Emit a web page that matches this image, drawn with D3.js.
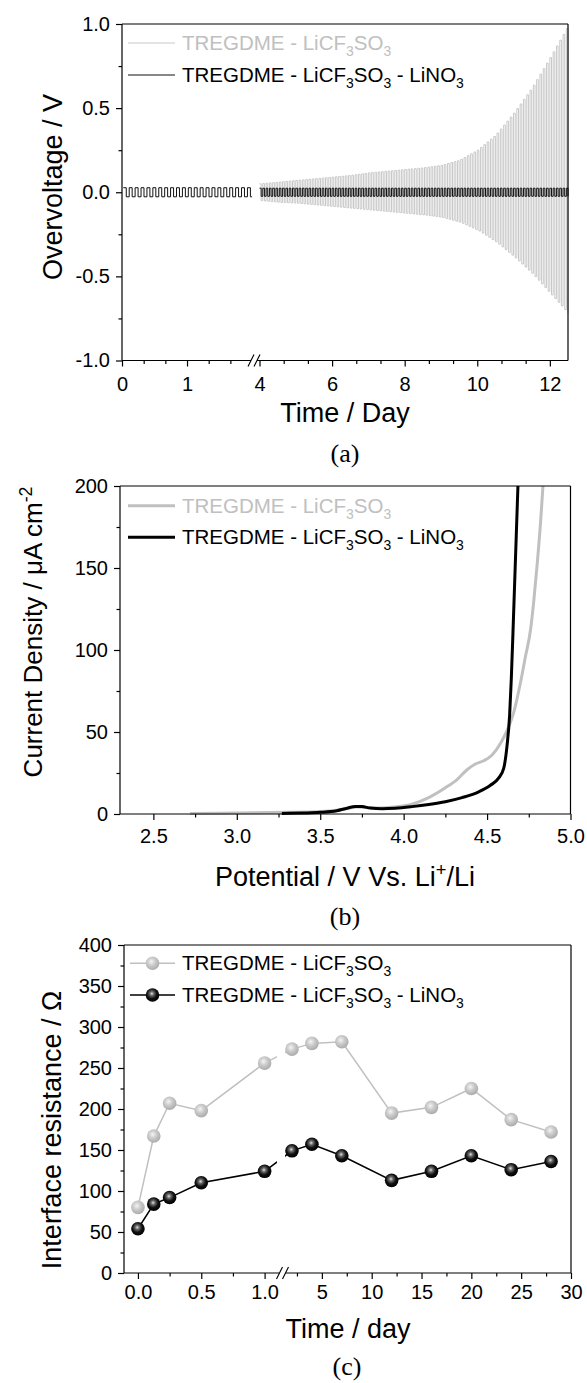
<!DOCTYPE html>
<html>
<head>
<meta charset="utf-8">
<script src="https://cdn.jsdelivr.net/npm/d3@7"></script>
<style>
  body { margin: 0; background: #fff; }
  svg { display: block; font-family: Arial, "Liberation Sans", sans-serif; }
</style>
</head>
<body>
<div class="main"></div>
<script>
// ---- data (a) : overvoltage cycling, envelope ----
const cyclesPerDay = 11;
const blackWindowsA = [[0.02, 2.0], [4.0, 12.5]];   // days with cycling shown
const blackAmpA = [0.027, 0.024];                     // +/- amplitude per window (V)
const envDays  = [4.0, 4.5, 5.0, 5.5, 6.0, 6.5, 7.0, 7.5, 8.0, 8.5, 9.0, 9.5, 10.0, 10.5, 11.0, 11.5, 12.0, 12.5];
const grayUp   = [0.05, 0.06, 0.07, 0.08, 0.09, 0.10, 0.115, 0.125, 0.135, 0.145, 0.16, 0.19, 0.25, 0.34, 0.47, 0.62, 0.80, 0.99];
const grayDown = [-0.05, -0.06, -0.065, -0.075, -0.085, -0.095, -0.105, -0.115, -0.125, -0.135, -0.15, -0.18, -0.23, -0.30, -0.39, -0.49, -0.61, -0.73];
const aTicksY = [-1, -0.5, 0, 0.5, 1];
const aTicksX1 = [0, 1];
const aTicksX2 = [4, 6, 8, 10, 12];

// ---- data (b) : linear sweep voltammetry ----
const lsvGrayV = [2.72, 2.9, 3.1, 3.3, 3.5, 3.6, 3.67, 3.72, 3.77, 3.84, 3.95, 4.05, 4.15, 4.25, 4.32, 4.38, 4.43, 4.48, 4.53, 4.58, 4.62, 4.66, 4.70, 4.73, 4.76, 4.78, 4.80, 4.82, 4.835];
const lsvGrayI = [0.3, 0.5, 0.8, 1.0, 1.5, 2.3, 3.5, 4.3, 4.0, 3.6, 4.3, 6, 10, 16, 21, 27, 30.5, 32.5, 36, 43, 51, 62, 80, 96, 112, 130, 152, 177, 200];
const lsvBlackV = [3.27, 3.4, 3.5, 3.6, 3.66, 3.71, 3.75, 3.8, 3.87, 3.95, 4.05, 4.15, 4.25, 4.35, 4.45, 4.52, 4.57, 4.6, 4.62, 4.635, 4.645, 4.655, 4.665, 4.675, 4.685];
const lsvBlackI = [0.3, 0.6, 1.0, 2.0, 3.5, 4.6, 4.5, 3.6, 3.2, 3.5, 4.5, 5.8, 7.5, 10, 13.5, 17.5, 22, 28, 42, 60, 82, 110, 140, 170, 200];
const bTicksX = [2.5, 3.0, 3.5, 4.0, 4.5, 5.0];
const bTicksY = [0, 50, 100, 150, 200];

// ---- data (c) : interface resistance ----
const resDays  = [0, 0.125, 0.25, 0.5, 1, 2, 4, 7, 12, 16, 20, 24, 28];
const resGray  = [80, 167, 207, 198, 256, 273, 280, 282, 195, 202, 225, 187, 172];
const resBlack = [54, 84, 92, 110, 124, 149, 157, 143, 113, 124, 143, 126, 136];
const cTicksY = [0, 50, 100, 150, 200, 250, 300, 350, 400];
const cTicksX1 = [0, 0.5, 1.0];
const cTicksX2 = [5, 10, 15, 20, 25, 30];

const GRAY = "#c8c8c8";
const FONT = 'Arial, "Liberation Sans", sans-serif';
const SERIF = '"Liberation Serif", "Times New Roman", serif';
const LEG = 20.5;

const svg = d3.select('.main').append('svg')
  .attr('width', 587).attr('height', 1383);
svg.append('rect').attr('width', 587).attr('height', 1383).attr('fill', '#fff');

// helpers
function styleAxis(g, fs) {
  g.select('.domain').remove();
  g.selectAll('line').attr('stroke', '#000').attr('stroke-width', 1.2);
  g.selectAll('text').attr('fill', '#000').attr('font-size', fs).attr('font-family', FONT);
}
function bottomAxis(scale, y, majors, minors, fmt, pad) {
  svg.append('g').attr('transform', `translate(0,${y})`)
    .call(d3.axisBottom(scale).tickValues(majors).tickSize(6).tickPadding(pad).tickFormat(fmt))
    .call(g => styleAxis(g, 20));
  svg.append('g').attr('transform', `translate(0,${y})`)
    .call(d3.axisBottom(scale).tickValues(minors).tickSize(3.5).tickFormat(''))
    .call(g => styleAxis(g, 20));
}
function leftAxis(scale, x, majors, minors, fmt) {
  svg.append('g').attr('transform', `translate(${x},0)`)
    .call(d3.axisLeft(scale).tickValues(majors).tickSize(6).tickPadding(6).tickFormat(fmt))
    .call(g => styleAxis(g, 20));
  svg.append('g').attr('transform', `translate(${x},0)`)
    .call(d3.axisLeft(scale).tickValues(minors).tickSize(3.5).tickFormat(''))
    .call(g => styleAxis(g, 20));
}
function line(x1, y1, x2, y2, w) {
  svg.append('line').attr('x1', x1).attr('y1', y1).attr('x2', x2).attr('y2', y2)
    .attr('stroke', '#000').attr('stroke-width', w || 1.2);
}
function breakMarks(cx1, cx2, y) {
  [cx1, cx2].forEach(c => line(c - 3, y + 6, c + 3, y - 6, 1.1));
}
// text with sub/superscripts: parts = [[text, 0|-1|1]]  (1 = sub, -1 = sup)
function richText(sel, parts, fs) {
  let shift = 0;
  parts.forEach(([t, k]) => {
    const target = k === 1 ? fs * 0.3 : (k === -1 ? -fs * 0.38 : 0);
    sel.append('tspan').attr('dy', target - shift)
      .attr('font-size', k ? fs * 0.68 : fs).text(t);
    shift = target;
  });
}
function midTicks(arr, n) {
  const out = [];
  for (let i = 0; i < arr.length - 1; i++)
    for (let k = 1; k <= n; k++) out.push(arr[i] + (arr[i + 1] - arr[i]) * k / (n + 1));
  return out;
}
const fmt1 = d => d.toFixed(1);
const fmt0 = d => String(d);

// ================= panel (a) =================
const aY = d3.scaleLinear().domain([-1, 1]).range([360.5, 24]);
const aX1 = d3.scaleLinear().domain([0, 2.03]).range([122, 254]);
const aX2 = d3.scaleLinear().domain([4, 12.5]).range([259.5, 568]);
const envUp = d3.scaleLinear().domain(envDays).range(grayUp);
const envDn = d3.scaleLinear().domain(envDays).range(grayDown);

function squareWave(t0, t1, up, dn) {
  const p = 1 / cyclesPerDay, pts = [];
  for (let t = t0; t < t1 - 1e-9; t += p) {
    const h = Math.min(t + p / 2, t1), e = Math.min(t + p, t1);
    pts.push([t, up(t)], [h, up(t)], [h, dn(t)], [e, dn(t)]);
  }
  return pts;
}
const lineA2 = d3.line().x(d => aX2(d[0])).y(d => aY(d[1]));
const lineA1 = d3.line().x(d => aX1(d[0])).y(d => aY(d[1]));

// gray cell (growing polarization)
svg.append('path').datum(squareWave(envDays[0], envDays[envDays.length - 1], envUp, envDn))
  .attr('fill', 'none').attr('stroke', GRAY).attr('stroke-width', 1).attr('d', lineA2);
// black cell
svg.append('path').datum(squareWave(blackWindowsA[0][0], blackWindowsA[0][1], () => blackAmpA[0], () => -blackAmpA[0]))
  .attr('fill', 'none').attr('stroke', '#111').attr('stroke-width', 1).attr('d', lineA1);
svg.append('path').datum(squareWave(blackWindowsA[1][0], blackWindowsA[1][1], () => blackAmpA[1], () => -blackAmpA[1]))
  .attr('fill', 'none').attr('stroke', '#111').attr('stroke-width', 1).attr('d', lineA2);

// frame + axes
line(122, 24, 568, 24); line(568, 24, 568, 360.5); line(122, 24, 122, 360.5);
line(122, 360.5, 251, 360.5); line(257, 360.5, 568, 360.5);
breakMarks(251, 257, 360.5);
leftAxis(aY, 122, aTicksY, midTicks(aTicksY, 1), fmt1);
bottomAxis(aX1, 360.5, aTicksX1, [1 / 3, 2 / 3, 4 / 3, 5 / 3], fmt0, 10);
bottomAxis(aX2, 360.5, aTicksX2, midTicks(aTicksX2, 2), fmt0, 10);

svg.append('text').attr('transform', 'rotate(-90)').attr('x', -187).attr('y', 62)
  .attr('text-anchor', 'middle').attr('font-size', 27).text('Overvoltage / V');
svg.append('text').attr('x', 345).attr('y', 422).attr('text-anchor', 'middle')
  .attr('font-size', 27).text('Time / Day');
svg.append('text').attr('x', 345).attr('y', 462).attr('text-anchor', 'middle')
  .attr('font-family', SERIF).attr('font-size', 26).text('(a)');

// legend (a)
[[43, GRAY, '#c0c0c0', 1, [['TREGDME - LiCF', 0], ['3', 1], ['SO', 0], ['3', 1]]],
 [75, '#111', '#000', 1.2, [['TREGDME - LiCF', 0], ['3', 1], ['SO', 0], ['3', 1], [' - LiNO', 0], ['3', 1]]]]
  .forEach(([y, lc, tc, w, parts]) => {
    svg.append('line').attr('x1', 128).attr('x2', 175).attr('y1', y).attr('y2', y)
      .attr('stroke', lc).attr('stroke-width', w);
    richText(svg.append('text').attr('x', 182).attr('y', y + 7).attr('fill', tc), parts, LEG);
  });

// ================= panel (b) =================
const bX = d3.scaleLinear().domain([2.3, 5.0]).range([120, 570.5]);
const bY = d3.scaleLinear().domain([0, 200]).range([814, 486]);
const lineB = d3.line().x(d => bX(d[0])).y(d => bY(d[1])).curve(d3.curveMonotoneX);

svg.append('path').datum(d3.zip(lsvGrayV, lsvGrayI))
  .attr('fill', 'none').attr('stroke', '#c0c0c0').attr('stroke-width', 3).attr('d', lineB);
svg.append('path').datum(d3.zip(lsvBlackV, lsvBlackI))
  .attr('fill', 'none').attr('stroke', '#000').attr('stroke-width', 3).attr('d', lineB);

line(120, 486, 570.5, 486); line(570.5, 486, 570.5, 814);
line(120, 486, 120, 814); line(120, 814, 570.5, 814);
leftAxis(bY, 120, bTicksY, midTicks(bTicksY, 1), fmt0);
bottomAxis(bX, 814, bTicksX, midTicks(bTicksX, 1), fmt1, 9);

richText(svg.append('text').attr('transform', 'rotate(-90)').attr('x', -632).attr('y', 42)
  .attr('text-anchor', 'middle'), [['Current Density / \u03bcA cm', 0], ['-2', -1]], 26);
richText(svg.append('text').attr('x', 345).attr('y', 886).attr('text-anchor', 'middle'),
  [['Potential / V Vs. Li', 0], ['+', -1], ['/Li', 0]], 27);
svg.append('text').attr('x', 345).attr('y', 925).attr('text-anchor', 'middle')
  .attr('font-family', SERIF).attr('font-size', 26).text('(b)');

[[505.7, '#c0c0c0', '#c0c0c0', [['TREGDME - LiCF', 0], ['3', 1], ['SO', 0], ['3', 1]]],
 [537.3, '#000', '#000', [['TREGDME - LiCF', 0], ['3', 1], ['SO', 0], ['3', 1], [' - LiNO', 0], ['3', 1]]]]
  .forEach(([y, lc, tc, parts]) => {
    svg.append('line').attr('x1', 128).attr('x2', 175).attr('y1', y).attr('y2', y)
      .attr('stroke', lc).attr('stroke-width', 3);
    richText(svg.append('text').attr('x', 182).attr('y', y + 7).attr('fill', tc), parts, LEG);
  });

// ================= panel (c) =================
const cY = d3.scaleLinear().domain([0, 400]).range([1273, 945]);
const cX1 = d3.scaleLinear().domain([-0.11, 1.12]).range([124, 279.8]);
const cX2 = d3.scaleLinear().domain([1.2, 30]).range([284, 571]);
const cX = d => (d <= 1.12 ? cX1(d) : cX2(d));

const defs = svg.append('defs');
defs.append('clipPath').attr('id', 'clipC1').append('rect')
  .attr('x', 120).attr('y', 940).attr('width', 157).attr('height', 340);
defs.append('clipPath').attr('id', 'clipC2').append('rect')
  .attr('x', 285).attr('y', 940).attr('width', 290).attr('height', 340);
const gGray = defs.append('radialGradient').attr('id', 'ballGray').attr('cx', '42%').attr('cy', '38%').attr('r', '60%');
gGray.append('stop').attr('offset', '0%').attr('stop-color', '#f4f4f4');
gGray.append('stop').attr('offset', '45%').attr('stop-color', '#cdcdcd');
gGray.append('stop').attr('offset', '100%').attr('stop-color', '#adadad');
const gBlack = defs.append('radialGradient').attr('id', 'ballBlack').attr('cx', '45%').attr('cy', '40%').attr('r', '60%');
gBlack.append('stop').attr('offset', '0%').attr('stop-color', '#e0e0e0');
gBlack.append('stop').attr('offset', '25%').attr('stop-color', '#6a6a6a');
gBlack.append('stop').attr('offset', '60%').attr('stop-color', '#111');
gBlack.append('stop').attr('offset', '100%').attr('stop-color', '#000');

const lineC = vals => d3.line().x((d, i) => cX(resDays[i])).y(d => cY(d))(vals);
[[resGray, '#c0c0c0'], [resBlack, '#000']].forEach(([vals, col]) => {
  ['clipC1', 'clipC2'].forEach(id => {
    svg.append('path').attr('d', lineC(vals)).attr('clip-path', `url(#${id})`)
      .attr('fill', 'none').attr('stroke', col).attr('stroke-width', 1.5);
  });
});
[[resGray, 'ballGray'], [resBlack, 'ballBlack']].forEach(([vals, grad]) => {
  svg.append('g').selectAll('circle').data(vals).join('circle')
    .attr('cx', (d, i) => cX(resDays[i])).attr('cy', d => cY(d)).attr('r', 6.8)
    .attr('fill', `url(#${grad})`);
});

line(124, 945, 571, 945); line(571, 945, 571, 1273); line(124, 945, 124, 1273);
line(124, 1273, 279.5, 1273); line(285.5, 1273, 571, 1273);
breakMarks(279.5, 285.5, 1273);
leftAxis(cY, 124, cTicksY, midTicks(cTicksY, 1), fmt0);
bottomAxis(cX1, 1273, cTicksX1, [0.25, 0.75], fmt1, 6);
bottomAxis(cX2, 1273, cTicksX2, [2.5].concat(midTicks(cTicksX2, 1)), fmt0, 6);

svg.append('text').attr('transform', 'rotate(-90)').attr('x', -1130).attr('y', 61)
  .attr('text-anchor', 'middle').attr('font-size', 27).text('Interface resistance / \u03a9');
svg.append('text').attr('x', 348).attr('y', 1338).attr('text-anchor', 'middle')
  .attr('font-size', 27).text('Time / day');
svg.append('text').attr('x', 347).attr('y', 1375).attr('text-anchor', 'middle')
  .attr('font-family', SERIF).attr('font-size', 26).text('(c)');

[[963.3, '#c0c0c0', 'ballGray', [['TREGDME - LiCF', 0], ['3', 1], ['SO', 0], ['3', 1]]],
 [995, '#000', 'ballBlack', [['TREGDME - LiCF', 0], ['3', 1], ['SO', 0], ['3', 1], [' - LiNO', 0], ['3', 1]]]]
  .forEach(([y, lc, grad, parts]) => {
    svg.append('line').attr('x1', 130).attr('x2', 175).attr('y1', y).attr('y2', y)
      .attr('stroke', lc).attr('stroke-width', 1.5);
    svg.append('circle').attr('cx', 152.5).attr('cy', y).attr('r', 6.8).attr('fill', `url(#${grad})`);
    richText(svg.append('text').attr('x', 182).attr('y', y + 7).attr('fill', '#000'), parts, LEG);
  });
</script>
</body>
</html>
